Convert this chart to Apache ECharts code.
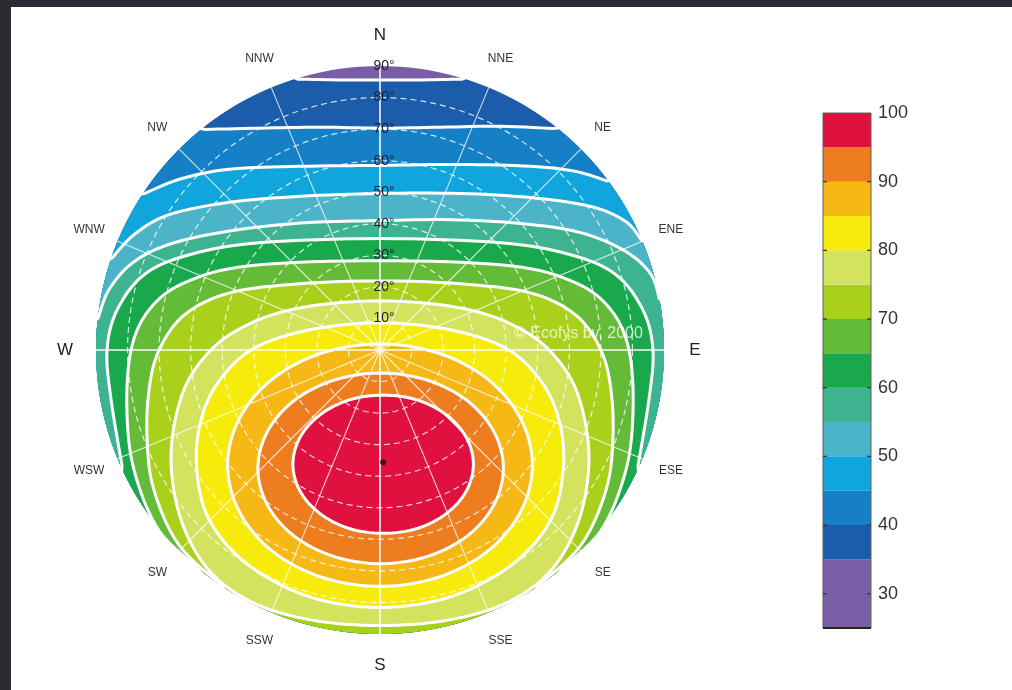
<!DOCTYPE html>
<html>
<head>
<meta charset="utf-8">
<script src="https://cdn.jsdelivr.net/npm/echarts@6/dist/echarts.min.js"></script>
<style>
  html, body { margin: 0; padding: 0; background: #ffffff; }
  #chart { width: 1012px; height: 690px; }
</style>
</head>
<body>
<div id="chart"></div>
<script>
// Relative annual irradiation (%) by orientation and tilt.
// Dome coordinates: x = east (+) / west (-), y = north (+) / south (-),
// distance from centre = tilt in degrees (0 = horizontal, 90 = vertical).

// Colour scale (bands of the colour bar), lower bound, upper bound
const bandLow  = [25, 35, 40, 45, 50, 55, 60, 65, 70, 75, 80, 85, 90, 95];
const bandHigh = [35, 40, 45, 50, 55, 60, 65, 70, 75, 80, 85, 90, 95, 100];
const bandColors = ['#7a5da7', '#1b5dab', '#1680c6', '#10a5dc', '#4bb4c9', '#3db38f', '#19a84b',
                    '#63bb37', '#a9d01a', '#d3e35d', '#f7eb0c', '#f5b815', '#ee7d1f', '#e0113e'];
const barTicks = [30, 40, 50, 60, 70, 80, 90, 100];

// Contour levels and their traced lines ([x, y] in tilt degrees)
const levels = [35, 40, 45, 50, 55, 60, 65, 70, 75, 80, 85, 90, 95];
const contour35 = [[-27, 85.9], [-13.5, 85.6], [0, 85.6], [13.5, 85.6], [27, 85.9]];
const contour40 = [[-56.6, 69.7], [-38.2, 70.3], [-19.1, 70.6], [0, 70.3], [19.1, 70.6], [38.2, 70.9], [56.6, 70.3]];
const contour45 = [[-75.4, 49.3], [-63.6, 54.1], [-47.7, 57.3], [-25.4, 58.2], [0, 58.5], [25.4, 58.8],
                   [47.7, 58.2], [62, 56.6], [72.5, 53.4]];
const contour50 = [[-85.2, 28.6], [-77.9, 36.6], [-66.8, 42.9], [-47.7, 46.8], [-25.4, 48.7], [0, 49.6],
                   [25.4, 49.6], [47.7, 48.3], [66.8, 45.5], [77.9, 40.7], [83.3, 34.4]];
const contour55 = [[-89.4, 9.5], [-85.9, 19.1], [-77.9, 28.0], [-65.2, 34.0], [-44.5, 38.2], [-22.3, 40.4],
                   [0, 41.0], [22.3, 41.3], [44.5, 40.1], [63.6, 37.2], [77.9, 31.2], [85.9, 23.9], [89.1, 15.9]];
const contour60 = [[-81.4, -38.2], [-85.2, -15.9], [-86.5, 0], [-83.3, 12.7], [-74.7, 23.9], [-60.4, 30.2],
                   [-38.2, 34.0], [0, 35.3], [38.2, 34.0], [60.4, 30.2], [74.7, 23.9], [83.3, 12.7],
                   [86.5, 0], [85.2, -15.9], [81.4, -38.2]];
const contour65 = [[-57.3, -70.6], [-70.0, -57.3], [-77.9, -38.2], [-80.2, -19.1], [-78.9, 0], [-73.2, 12.7],
                   [-62.0, 21.3], [-41.3, 26.7], [0, 28.3], [41.3, 26.7], [62.0, 21.3], [73.2, 12.7],
                   [78.9, 0], [80.2, -19.1], [77.9, -38.2], [70.0, -57.3], [57.3, -70.6]];
const contour70 = [[-49.3, -75.7], [-63.6, -62.0], [-71.6, -44.5], [-73.8, -28.6], [-73.2, -12.7], [-70.0, 0],
                   [-62.0, 11.1], [-47.7, 18.1], [-25.4, 21.0], [0, 21.9], [25.4, 21.0], [47.7, 18.1],
                   [62.0, 11.1], [70.0, 0], [73.2, -12.7], [73.8, -28.6], [71.6, -44.5], [63.6, -62.0], [49.3, -75.7]];
const contour75 = [[-66.2, -35.9], [-64.2, -19.1], [-58.8, -6.4], [-47.7, 4.8], [-28.6, 12.7], [0, 15.6],
                   [28.6, 12.7], [47.7, 4.8], [58.8, -6.4], [64.2, -19.1], [66.2, -35.9], [63.0, -54.0],
                   [54.5, -69.5], [40.5, -80.0], [21.5, -85.6], [0, -87.3], [-21.5, -85.6], [-40.5, -80.0],
                   [-54.5, -69.5], [-63.0, -54.0]];
const contour80 = [[-58.2, -35.9], [-56.3, -20.7], [-50.3, -8.9], [-39.8, 0.6], [-22.3, 6.4], [0, 8.6],
                   [22.3, 6.4], [39.8, 0.6], [50.3, -8.9], [56.3, -20.7], [58.2, -35.9], [54.5, -53.0],
                   [42.5, -67.5], [23.0, -78.0], [0, -81.6], [-23.0, -78.0], [-42.5, -67.5], [-54.5, -53.0]];
const contour85 = [[48.3, -36.5], [44.6, -21.8], [34.2, -9.3], [18.5, -1.0], [0, 1.9], [-18.5, -1.0],
                   [-34.2, -9.3], [-44.6, -21.8], [-48.3, -36.5], [-44.6, -51.2], [-34.2, -63.7], [-18.5, -72.0],
                   [0, -74.9], [18.5, -72.0], [34.2, -63.7], [44.6, -51.2]];
const contour90 = [[39.1, -37.5], [36.1, -25.9], [27.7, -16.1], [15.1, -9.6], [0.2, -7.3], [-14.7, -9.6],
                   [-27.3, -16.1], [-35.7, -25.9], [-38.7, -37.5], [-35.7, -49.1], [-27.3, -58.9], [-14.7, -65.4],
                   [0.2, -67.7], [15.1, -65.4], [27.7, -58.9], [36.1, -49.1]];
const contour95 = [[29.6, -36.2], [27.4, -27.8], [21.2, -20.7], [12.0, -15.9], [1.0, -14.3], [-10.0, -15.9],
                   [-19.2, -20.7], [-25.4, -27.8], [-27.6, -36.2], [-25.4, -44.6], [-19.2, -51.7], [-10.0, -56.5],
                   [1.0, -58.1], [12.0, -56.5], [21.2, -51.7], [27.4, -44.6]];
// Lines that run from rim to rim (true) or close on themselves (false)
const contourOpen = [true, true, true, true, true, true, true, true, false, false, false, false, false];
const optimum = [1.0, -35.6];

// Dome grid and labels
const tiltTicks = [10, 20, 30, 40, 50, 60, 70, 80, 90];
const tiltLabels = ['10°', '20°', '30°', '40°', '50°', '60°', '70°', '80°', '90°'];
const compassNames = ['N', 'NNE', 'NE', 'ENE', 'E', 'ESE', 'SE', 'SSE', 'S', 'SSW', 'SW', 'WSW', 'W', 'WNW', 'NW', 'NNW'];
const compassAz = [0, 22.5, 45, 67.5, 90, 112.5, 135, 157.5, 180, 202.5, 225, 247.5, 270, 292.5, 315, 337.5];

const contours = [contour35, contour40, contour45, contour50, contour55, contour60, contour65,
                  contour70, contour75, contour80, contour85, contour90, contour95];

const RIM = 90;
const D2R = Math.PI / 180;

// Catmull-Rom resampling so the traced lines are drawn as smooth curves
function smoothLine(pts, closed, steps) {
  const out = [];
  const n = pts.length;
  const get = i => closed ? pts[(i + n) % n] : pts[Math.max(0, Math.min(n - 1, i))];
  const segs = closed ? n : n - 1;
  for (let i = 0; i < segs; i++) {
    const p0 = get(i - 1), p1 = get(i), p2 = get(i + 1), p3 = get(i + 2);
    for (let s = 0; s < steps; s++) {
      const t = s / steps, t2 = t * t, t3 = t2 * t;
      out.push([0, 1].map(k => 0.5 * ((2 * p1[k]) + (-p0[k] + p2[k]) * t +
        (2 * p0[k] - 5 * p1[k] + 4 * p2[k] - p3[k]) * t2 + (-p0[k] + 3 * p1[k] - 3 * p2[k] + p3[k]) * t3)));
    }
  }
  if (!closed) out.push(pts[n - 1]);
  return out;
}

function snapToRim(p, r) {
  const len = Math.hypot(p[0], p[1]);
  return [p[0] / len * r, p[1] / len * r];
}

function contourLine(c, open) {
  const pts = c.slice();
  if (open) {
    pts[0] = snapToRim(pts[0], RIM);
    pts[pts.length - 1] = snapToRim(pts[pts.length - 1], RIM);
  }
  return smoothLine(pts, !open, 8);
}

function rimArc(fromAng, toAng) {
  const arc = [];
  const n = Math.max(2, Math.ceil(Math.abs(fromAng - toAng) / (2 * D2R)));
  for (let i = 0; i <= n; i++) {
    const t = fromAng + (toAng - fromAng) * i / n;
    arc.push([RIM * Math.cos(t), RIM * Math.sin(t)]);
  }
  return arc;
}

// Area at or above a level: the line itself, closed along the rim through the south
function regionPoints(c, open) {
  const line = contourLine(c, open);
  if (!open) return line;
  const w = line[0], e = line[line.length - 1];
  const aw = Math.atan2(w[1], w[0]);
  const ae = Math.atan2(e[1], e[0]);
  let target = aw;
  while (target > ae) target -= 2 * Math.PI;
  return line.concat(rimArc(ae, target));
}

function circlePoints(r, stepDeg) {
  const pts = [];
  for (let a = 0; a < 360; a += stepDeg) pts.push([r * Math.cos(a * D2R), r * Math.sin(a * D2R)]);
  return pts;
}

function azPoint(az, r) {
  return [r * Math.sin(az * D2R), r * Math.cos(az * D2R)];
}

const FONT = '"Liberation Sans", Arial, sans-serif';
const chart = echarts.init(document.getElementById('chart'));

const option = {
  backgroundColor: '#ffffff',
  animation: false,
  graphic: [
    { type: 'rect', left: 0, top: 0, shape: { width: 1012, height: 7 }, style: { fill: '#2c2b33' }, z: 100 },
    { type: 'rect', left: 0, top: 0, shape: { width: 11, height: 690 }, style: { fill: '#2c2b33' }, z: 100 },
    { type: 'text', left: 514, top: 326, z: 50,
      style: { text: '© Ecofys bv, 2000', fill: 'rgba(255,255,255,0.75)', font: '16px ' + FONT } }
  ],
  grid: [
    { left: 96, top: 66, width: 568, height: 568 },
    { left: 823, top: 113, width: 48, height: 515 }
  ],
  xAxis: [
    { type: 'value', min: -90, max: 90, show: false, gridIndex: 0 },
    { type: 'value', min: 0, max: 1, show: false, gridIndex: 1 }
  ],
  yAxis: [
    { type: 'value', min: -90, max: 90, show: false, gridIndex: 0 },
    {
      type: 'value', min: 25, max: 100, gridIndex: 1, position: 'right',
      axisLine: { show: false },
      splitLine: { show: false },
      axisTick: { show: false },
      axisLabel: { show: true, customValues: barTicks, margin: 7, color: '#333', fontSize: 18, fontFamily: FONT }
    }
  ],
  series: [
    {
      // Coloured bands of the dome
      type: 'custom', xAxisIndex: 0, yAxisIndex: 0, silent: true, clip: false, z: 1,
      data: [[0, 0]],
      renderItem: function (params, api) {
        const P = p => api.coord(p);
        const children = [];
        children.push({ type: 'polygon', shape: { points: circlePoints(RIM, 2).map(P) },
                        style: { fill: bandColors[0] } });
        contours.forEach((c, i) => {
          children.push({ type: 'polygon', shape: { points: regionPoints(c, contourOpen[i]).map(P) },
                          style: { fill: bandColors[i + 1] } });
        });
        return { type: 'group', children: children };
      }
    },
    {
      // Tilt circles and azimuth lines
      type: 'custom', xAxisIndex: 0, yAxisIndex: 0, silent: true, clip: false, z: 2,
      data: [[0, 0]],
      renderItem: function (params, api) {
        const P = p => api.coord(p);
        const children = [];
        tiltTicks.forEach(t => {
          if (t >= RIM) return;
          children.push({ type: 'polygon', shape: { points: circlePoints(t, 2).map(P) },
                          style: { fill: null, stroke: 'rgba(255,255,255,0.8)', lineWidth: 1.2, lineDash: [6, 4] } });
        });
        compassAz.forEach(az => {
          if (az % 90 === 0) return;
          children.push({ type: 'polyline', shape: { points: [P([0, 0]), P(azPoint(az, RIM))] },
                          style: { stroke: 'rgba(255,255,255,0.8)', lineWidth: 1.1 } });
        });
        children.push({ type: 'polyline', shape: { points: [P([-RIM, 0]), P([RIM, 0])] },
                        style: { stroke: 'rgba(255,255,255,0.95)', lineWidth: 1.6 } });
        children.push({ type: 'polyline', shape: { points: [P([0, -RIM]), P([0, RIM])] },
                        style: { stroke: 'rgba(255,255,255,0.95)', lineWidth: 1.6 } });
        return { type: 'group', children: children };
      }
    },
    {
      // Contour lines between the bands
      type: 'custom', xAxisIndex: 0, yAxisIndex: 0, silent: true, clip: false, z: 3,
      data: levels.map((lv, i) => [lv, i]),
      renderItem: function (params, api) {
        const i = params.dataIndex;
        const pts = contourLine(contours[i], contourOpen[i]);
        if (contourOpen[i]) {
          pts[0] = snapToRim(pts[0], RIM + 0.4);
          pts[pts.length - 1] = snapToRim(pts[pts.length - 1], RIM + 0.4);
        } else {
          pts.push(pts[0]);
        }
        return { type: 'polyline', shape: { points: pts.map(p => api.coord(p)) },
                 style: { stroke: '#ffffff', lineWidth: 3, fill: null } };
      }
    },
    {
      // Optimum orientation marker
      type: 'scatter', xAxisIndex: 0, yAxisIndex: 0, silent: true, z: 4,
      symbolSize: 6, itemStyle: { color: '#111' },
      data: [optimum]
    },
    {
      // Tilt labels along the north axis
      type: 'custom', xAxisIndex: 0, yAxisIndex: 0, silent: true, clip: false, z: 5,
      data: tiltTicks.map((t, i) => [0, t, i]),
      renderItem: function (params, api) {
        const p = api.coord([api.value(0), api.value(1)]);
        return { type: 'text', x: p[0] + 4, y: p[1],
                 style: { text: tiltLabels[api.value(2)], fill: '#1e1e34', align: 'center', verticalAlign: 'middle',
                          font: '14px ' + FONT } };
      }
    },
    {
      // Compass directions around the dome
      type: 'custom', xAxisIndex: 0, yAxisIndex: 0, silent: true, clip: false, z: 5,
      data: compassAz.map((az, i) => azPoint(az, 99.8).concat([i])),
      renderItem: function (params, api) {
        const i = api.value(2);
        const p = api.coord([api.value(0), api.value(1)]);
        const main = compassAz[i] % 90 === 0;
        return { type: 'text', x: p[0], y: p[1],
                 style: { text: compassNames[i], fill: main ? '#222' : '#333', align: 'center', verticalAlign: 'middle',
                          font: (main ? '17px ' : '12px ') + FONT } };
      }
    },
    {
      // Colour bar
      type: 'custom', xAxisIndex: 1, yAxisIndex: 1, silent: true, clip: false, z: 2,
      data: bandLow.map((lo, i) => [lo, bandHigh[i], i]),
      renderItem: function (params, api) {
        const a = api.coord([0, api.value(1)]);
        const b = api.coord([1, api.value(0)]);
        return { type: 'rect', shape: { x: a[0], y: a[1], width: b[0] - a[0], height: b[1] - a[1] },
                 style: { fill: bandColors[api.value(2)] } };
      }
    },
    {
      // Colour bar frame and tick marks
      type: 'custom', xAxisIndex: 1, yAxisIndex: 1, silent: true, clip: false, z: 3,
      data: [[0, 100]],
      renderItem: function (params, api) {
        const a = api.coord([0, 100]);
        const b = api.coord([1, 25]);
        const children = [{ type: 'rect', shape: { x: a[0], y: a[1], width: b[0] - a[0], height: b[1] - a[1] },
                            style: { fill: null, stroke: '#5e5e5e', lineWidth: 1 } },
                          { type: 'line', shape: { x1: a[0], y1: b[1], x2: b[0], y2: b[1] },
                            style: { stroke: '#222', lineWidth: 2 } }];
        barTicks.forEach(v => {
          if (v === 100) return;
          const y = api.coord([0, v])[1];
          children.push({ type: 'line', shape: { x1: a[0], y1: y, x2: a[0] + 4, y2: y }, style: { stroke: '#333', lineWidth: 1.2 } });
          children.push({ type: 'line', shape: { x1: b[0] - 4, y1: y, x2: b[0], y2: y }, style: { stroke: '#333', lineWidth: 1.2 } });
        });
        return { type: 'group', children: children };
      }
    }
  ]
};

chart.setOption(option);
</script>
</body>
</html>
